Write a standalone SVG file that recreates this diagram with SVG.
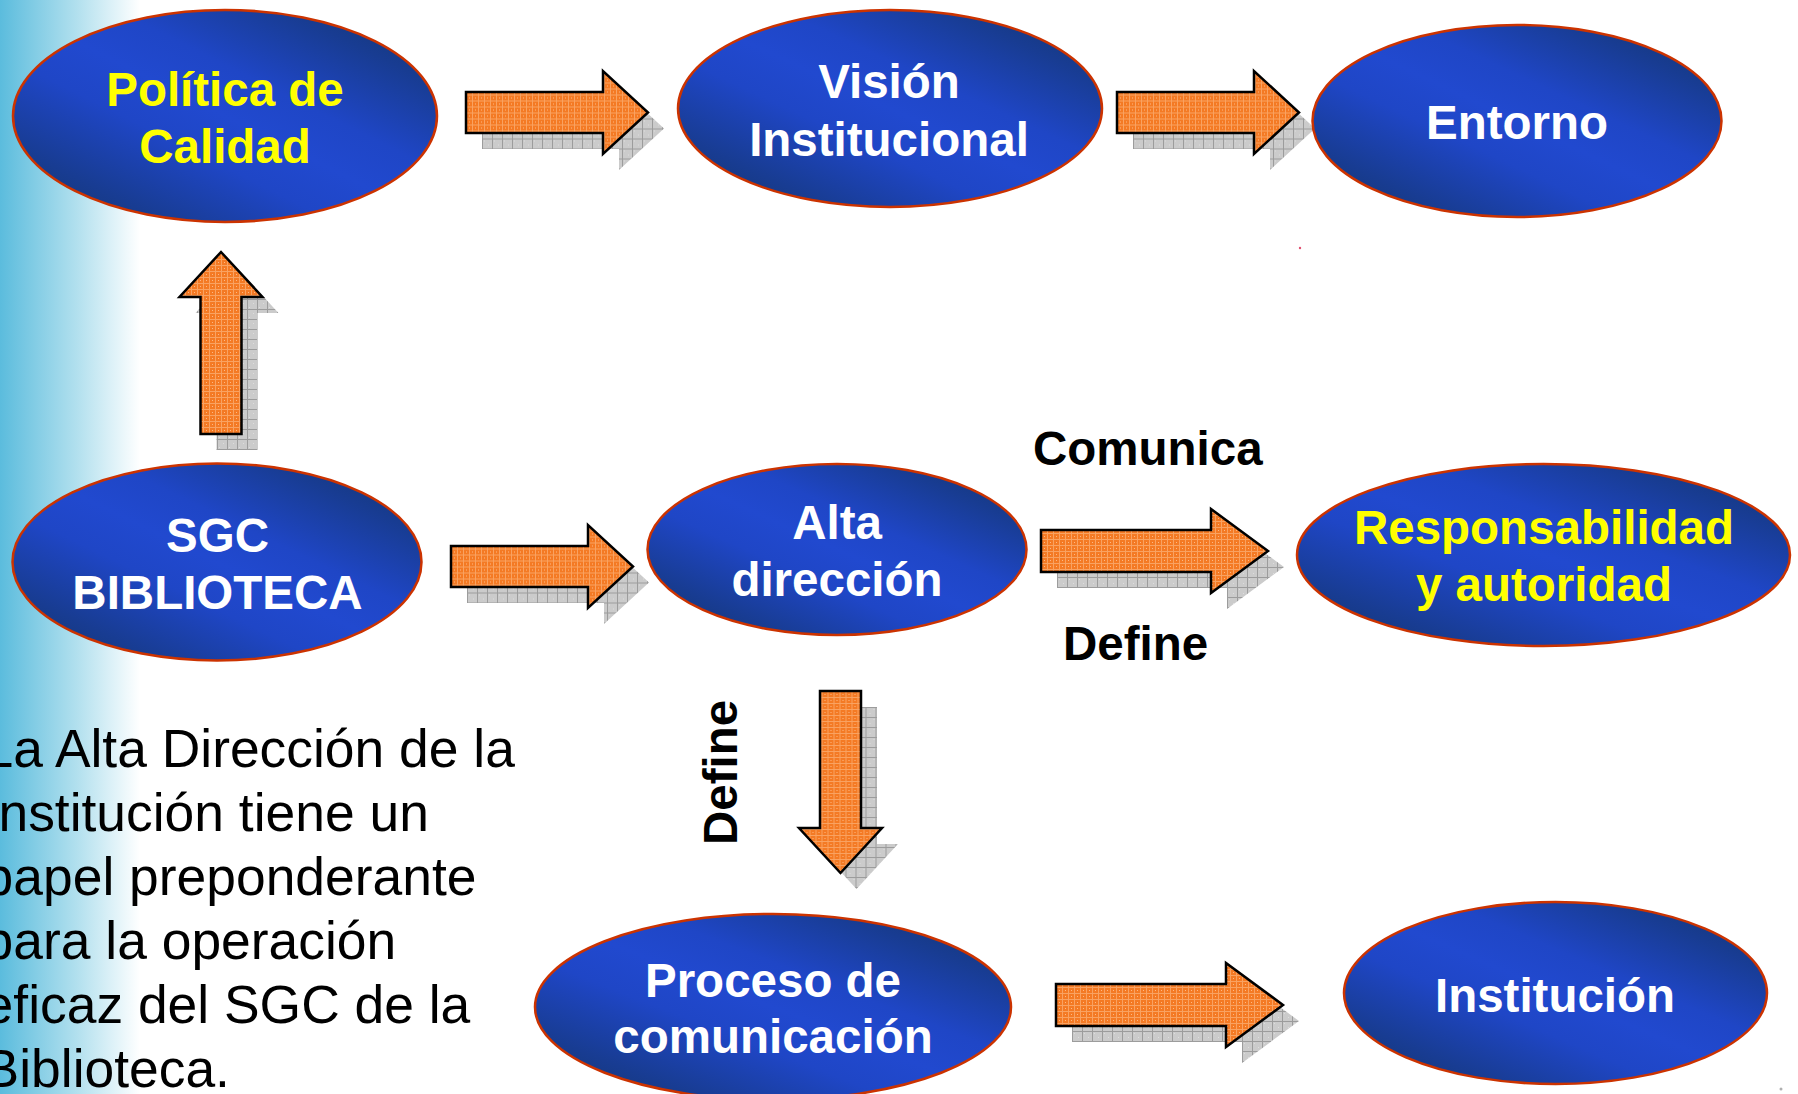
<svg xmlns="http://www.w3.org/2000/svg" xmlns:xlink="http://www.w3.org/1999/xlink" width="1798" height="1094" viewBox="0 0 1798 1094">
  <style>
    .node ellipse { fill: url(#blueGrad); stroke: #cc3300; stroke-width: 2.5; }
    .nt { font-family: "Liberation Sans", Arial, sans-serif; font-weight: bold; font-size: 47.5px; text-anchor: middle; }
    .white { fill: #ffffff; }
    .yellow { fill: #ffff00; }
    .arrow { fill: url(#orangePat); stroke: #000000; stroke-width: 2.5; stroke-linejoin: miter; }
    .shadow { fill: url(#grayPat); stroke: none; }
    .label { font-family: "Liberation Sans", Arial, sans-serif; font-weight: bold; font-size: 47.5px; fill: #000000; }
    .para { font-family: "Liberation Sans", Arial, sans-serif; font-size: 53.4px; fill: #000000; }
  </style>
  <defs>
    <linearGradient id="bgGrad" x1="0" y1="0" x2="1" y2="0">
      <stop offset="0" stop-color="#5bbcdd"/>
      <stop offset="0.55" stop-color="#b2e0ee"/>
      <stop offset="1" stop-color="#ffffff"/>
    </linearGradient>
    <linearGradient id="blueGrad" x1="1" y1="0" x2="0" y2="1">
      <stop offset="0" stop-color="#123468"/>
      <stop offset="0.18" stop-color="#183c92"/>
      <stop offset="0.38" stop-color="#1f46c6"/>
      <stop offset="0.5" stop-color="#2149cf"/>
      <stop offset="0.62" stop-color="#1f46c6"/>
      <stop offset="0.82" stop-color="#183c92"/>
      <stop offset="1" stop-color="#123468"/>
    </linearGradient>
    <pattern id="orangePat" width="6" height="6" patternUnits="userSpaceOnUse">
      <rect width="6" height="6" fill="#f47a24"/>
      <rect width="6" height="1" fill="#f9a261"/>
      <rect width="1" height="6" fill="#f9a261"/>
      <rect x="3" y="3" width="1" height="1" fill="#fdb884"/>
    </pattern>
    <pattern id="grayPat" width="10" height="10" patternUnits="userSpaceOnUse">
      <rect width="10" height="10" fill="#cbcbcb"/>
      <rect x="2" y="2" width="1" height="1" fill="#dddddd"/>
      <rect x="6" y="6" width="1" height="1" fill="#dddddd"/>
      <rect width="10" height="1" fill="#9c9c9c"/>
      <rect width="1" height="10" fill="#9c9c9c"/>
    </pattern>
    <path id="arrowA" d="M0,-20.5 H137 V-41.5 L182,0 L137,41.5 V20.5 H0 Z"/>
    <path id="arrowB" d="M0,-21 H170 V-42 L227,0 L170,42 V21 H0 Z"/>
  </defs>

  <rect x="0" y="0" width="1798" height="1094" fill="#ffffff"/>
  <rect x="0" y="0" width="140" height="1094" fill="url(#bgGrad)"/>

  <g id="connectors">
    <!-- Politica -> Vision -->
    <use xlink:href="#arrowA" href="#arrowA" class="shadow" transform="translate(482,128.5)"/>
    <use xlink:href="#arrowA" href="#arrowA" class="arrow" transform="translate(466,112.5)"/>
    <!-- Vision -> Entorno -->
    <use xlink:href="#arrowA" href="#arrowA" class="shadow" transform="translate(1133,128.5)"/>
    <use xlink:href="#arrowA" href="#arrowA" class="arrow" transform="translate(1117,112.5)"/>
    <!-- SGC -> Politica (up) -->
    <use xlink:href="#arrowA" href="#arrowA" class="shadow" transform="translate(237,450) rotate(-90)"/>
    <use xlink:href="#arrowA" href="#arrowA" class="arrow" transform="translate(221,434) rotate(-90)"/>
    <!-- SGC -> Alta direccion -->
    <use xlink:href="#arrowA" href="#arrowA" class="shadow" transform="translate(467,582.5)"/>
    <use xlink:href="#arrowA" href="#arrowA" class="arrow" transform="translate(451,566.5)"/>
    <!-- Alta direccion -> Responsabilidad -->
    <use xlink:href="#arrowB" href="#arrowB" class="shadow" transform="translate(1057,567)"/>
    <use xlink:href="#arrowB" href="#arrowB" class="arrow" transform="translate(1041,551)"/>
    <!-- Alta direccion -> Proceso (down) -->
    <use xlink:href="#arrowA" href="#arrowA" class="shadow" transform="translate(856.5,707) rotate(90)"/>
    <use xlink:href="#arrowA" href="#arrowA" class="arrow" transform="translate(840.5,691) rotate(90)"/>
    <!-- Proceso -> Institucion -->
    <use xlink:href="#arrowB" href="#arrowB" class="shadow" transform="translate(1072,1021)"/>
    <use xlink:href="#arrowB" href="#arrowB" class="arrow" transform="translate(1056,1005)"/>
  </g>

  <g id="labels">
    <text class="label" x="1033" y="465">Comunica</text>
    <text class="label" x="1063" y="660">Define</text>
    <text class="label" transform="translate(737,845) rotate(-90)">Define</text>
  </g>

  <g id="node-politica" class="node">
    <ellipse cx="225" cy="116" rx="212" ry="106"/>
    <text class="nt yellow" x="225" y="106">Política de</text>
    <text class="nt yellow" x="225" y="163">Calidad</text>
  </g>
  <g id="node-vision" class="node">
    <ellipse cx="890" cy="108.5" rx="212" ry="98.5"/>
    <text class="nt white" x="889" y="98">Visión</text>
    <text class="nt white" x="889" y="156">Institucional</text>
  </g>
  <g id="node-entorno" class="node">
    <ellipse cx="1517" cy="121" rx="204.5" ry="96"/>
    <text class="nt white" x="1517" y="139">Entorno</text>
  </g>
  <g id="node-sgc" class="node">
    <ellipse cx="217" cy="562" rx="204.5" ry="98.5"/>
    <text class="nt white" x="217.5" y="552">SGC</text>
    <text class="nt white" x="217.5" y="609">BIBLIOTECA</text>
  </g>
  <g id="node-alta" class="node">
    <ellipse cx="837" cy="549.5" rx="189.5" ry="85.5"/>
    <text class="nt white" x="837" y="539">Alta</text>
    <text class="nt white" x="837" y="596">dirección</text>
  </g>
  <g id="node-responsabilidad" class="node">
    <ellipse cx="1543.5" cy="555" rx="246.5" ry="91"/>
    <text class="nt yellow" x="1544" y="544">Responsabilidad</text>
    <text class="nt yellow" x="1544" y="601">y autoridad</text>
  </g>
  <g id="node-proceso" class="node">
    <ellipse cx="773" cy="1007" rx="238" ry="93"/>
    <text class="nt white" x="773" y="997">Proceso de</text>
    <text class="nt white" x="773" y="1053">comunicación</text>
  </g>
  <g id="node-institucion" class="node">
    <ellipse cx="1555.5" cy="993" rx="211.5" ry="91"/>
    <text class="nt white" x="1555" y="1012">Institución</text>
  </g>

  <g id="paragraph">
    <text class="para" x="-16.4" y="767">La Alta Dirección de la</text>
    <text class="para" x="-16.4" y="831">Institución tiene un</text>
    <text class="para" x="-16.4" y="895">papel preponderante</text>
    <text class="para" x="-16.4" y="959">para la operación</text>
    <text class="para" x="-16.4" y="1023">eficaz del SGC de la</text>
    <text class="para" x="-16.4" y="1087">Biblioteca.</text>
  </g>

  <circle cx="1300" cy="248" r="1.2" fill="#e05070"/>
  <circle cx="1781" cy="1089" r="1.5" fill="#b0b0b0"/>
</svg>
